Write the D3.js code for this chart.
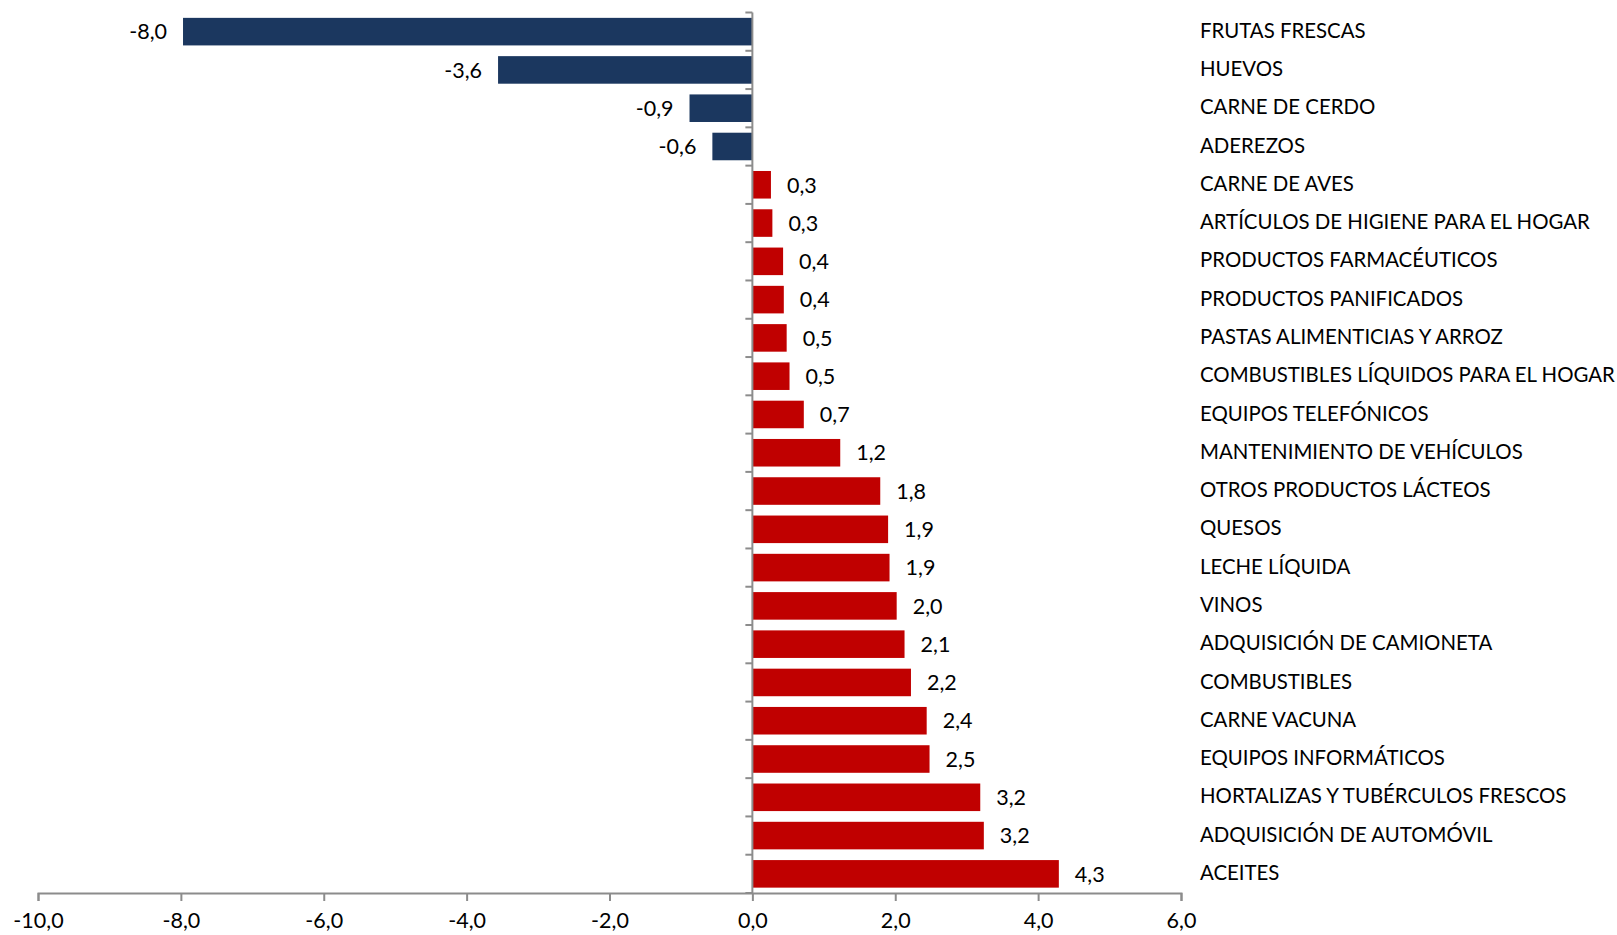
<!DOCTYPE html>
<html><head><meta charset="utf-8">
<script src="https://cdn.jsdelivr.net/npm/d3@7"></script>
<style>
html,body{margin:0;padding:0;background:#fff;}
svg text{font-family:Lato, "Open Sans", sans-serif;fill:#000;}
</style></head>
<body><svg id="c" width="1617" height="935"></svg>
<script>
const categories = ["FRUTAS FRESCAS","HUEVOS","CARNE DE CERDO","ADEREZOS","CARNE DE AVES","ARTÍCULOS DE HIGIENE PARA EL HOGAR","PRODUCTOS FARMACÉUTICOS","PRODUCTOS PANIFICADOS","PASTAS ALIMENTICIAS Y ARROZ","COMBUSTIBLES LÍQUIDOS PARA EL HOGAR","EQUIPOS TELEFÓNICOS","MANTENIMIENTO DE VEHÍCULOS","OTROS PRODUCTOS LÁCTEOS","QUESOS","LECHE LÍQUIDA","VINOS","ADQUISICIÓN DE CAMIONETA","COMBUSTIBLES","CARNE VACUNA","EQUIPOS INFORMÁTICOS","HORTALIZAS Y TUBÉRCULOS FRESCOS","ADQUISICIÓN DE AUTOMÓVIL","ACEITES"];
const values = [-7.97,-3.56,-0.88,-0.56,0.26,0.28,0.43,0.44,0.48,0.52,0.72,1.23,1.79,1.9,1.92,2.02,2.13,2.22,2.44,2.48,3.19,3.24,4.29];
const xTicks = [-10,-8,-6,-4,-2,0,2,4,6];

const svg = d3.select("#c");
const x = d3.scaleLinear().domain([-10,6]).range([38,1181]);
const y = d3.scaleBand().domain(categories).range([12.5,893]).paddingInner(0.28).paddingOuter(0.14);
const fmt = v => v.toFixed(1).replace(".", ",");
const axisColor = "#8c8c8c";
const catFs = 20.4, numFs = 21.5;

// bars
svg.selectAll("rect.bar").data(values).enter().append("rect")
  .attr("x", d => x(Math.min(0,d)))
  .attr("width", d => Math.abs(x(d)-x(0)))
  .attr("y", (d,i) => y(categories[i]))
  .attr("height", y.bandwidth())
  .attr("fill", d => d < 0 ? "#1b375f" : "#c00000");

// value labels
svg.selectAll("text.val").data(values).enter().append("text")
  .attr("x", d => d < 0 ? x(d) - 16 : x(d) + 16)
  .attr("y", (d,i) => y(categories[i]) + y.bandwidth()/2)
  .attr("dy", "0.36em")
  .attr("text-anchor", d => d < 0 ? "end" : "start")
  .style("font-size", numFs+"px")
  .text(fmt);

// category labels
svg.selectAll("text.cat").data(categories).enter().append("text")
  .attr("x", 1200)
  .attr("y", d => y(d) + y.bandwidth()/2)
  .attr("dy", "0.3em")
  .style("font-size", catFs+"px")
  .text(d => d);

// x axis
const xa = svg.append("g").attr("transform","translate(0,893)")
  .call(d3.axisBottom(x).tickValues(xTicks).tickSize(8).tickPadding(12).tickFormat(fmt));
xa.select(".domain").attr("stroke", axisColor).attr("stroke-width", 2);
xa.selectAll(".tick line").attr("stroke", axisColor).attr("stroke-width", 2);
xa.selectAll(".tick text").style("font-size", numFs+"px").attr("fill","#000");

// y axis at zero, ticks at band boundaries
const bounds = d3.range(categories.length+1).map(i => 12.5 + i*(893-12.5)/categories.length);
const ya = svg.append("g");
ya.append("line").attr("x1", x(0)).attr("x2", x(0)).attr("y1", 12.5).attr("y2", 893)
  .attr("stroke", axisColor).attr("stroke-width", 2);
ya.selectAll("line.t").data(bounds).enter().append("line")
  .attr("x1", x(0)-7).attr("x2", x(0)).attr("y1", d => d).attr("y2", d => d)
  .attr("stroke", axisColor).attr("stroke-width", 2);
</script></body></html>
